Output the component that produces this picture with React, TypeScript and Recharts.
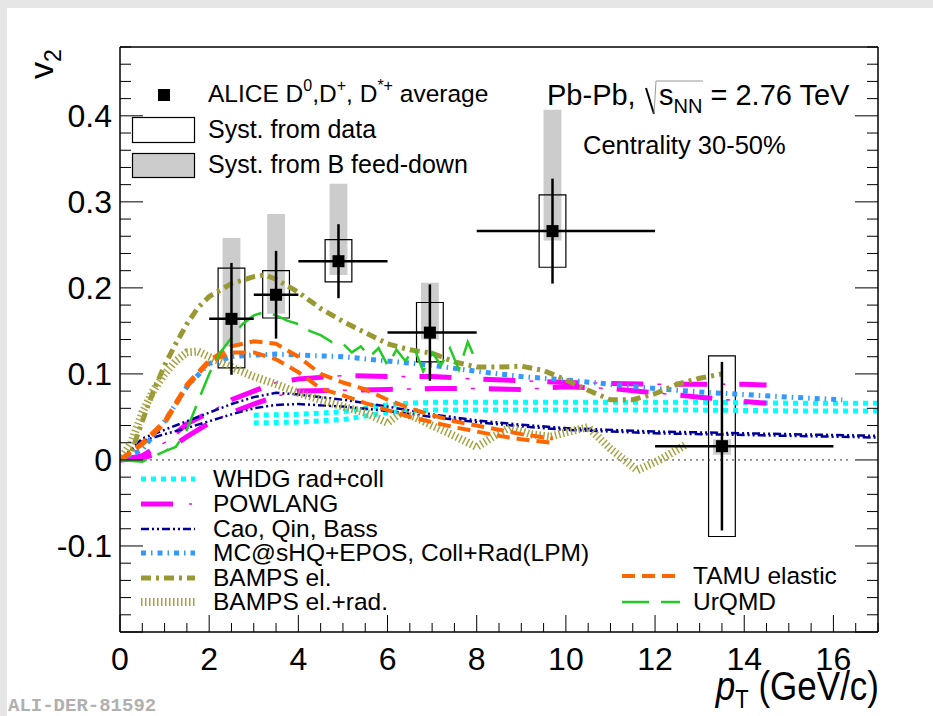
import React from "react";
import {
  ComposedChart,
  Line,
  Scatter,
  XAxis,
  YAxis,
  ErrorBar,
  ReferenceArea,
  ReferenceLine,
} from "recharts";

// ── Measured D-meson v2, Pb-Pb 30-50% ─────────────────────────
const PT = [2.5, 3.5, 4.9, 6.95, 9.7, 13.5];
const PT_LO = [2, 3, 4, 6, 8, 12];
const PT_HI = [3, 4, 6, 8, 12, 16];
const V2 = [0.164, 0.192, 0.231, 0.148, 0.266, 0.016];
const V2_STAT = [0.065, 0.051, 0.043, 0.056, 0.061, 0.098];
const SYST_DATA_LO = [0.107, 0.165, 0.207, 0.114, 0.224, -0.089];
const SYST_DATA_HI = [0.223, 0.22, 0.256, 0.183, 0.308, 0.121];
const SYST_FD_LO = [0.132, 0.17, 0.215, 0.14, 0.255, 0.006];
const SYST_FD_HI = [0.258, 0.286, 0.321, 0.206, 0.407, 0.024];

// ── Model curves [pT, v2] ─────────────────────────────────────
const WHDG_UP = [[3, 0.052], [4, 0.053], [5, 0.056], [5.5, 0.06], [6, 0.064], [6.5, 0.066], [7, 0.067], [9, 0.067], [11, 0.067], [13, 0.067], [15, 0.066], [17, 0.066]];
const WHDG_LO = [[3, 0.043], [4, 0.044], [5, 0.047], [5.5, 0.051], [6, 0.055], [6.5, 0.057], [7, 0.058], [9, 0.058], [11, 0.058], [13, 0.058], [15, 0.057], [17, 0.057]];
const POWLANG_UP = [[0, 0], [0.5, 0.005], [1, 0.02], [1.5, 0.042], [2, 0.055], [2.5, 0.07], [3, 0.08], [3.5, 0.09], [4, 0.094], [5, 0.098], [6, 0.097], [7, 0.097], [8, 0.094], [9, 0.092], [10, 0.09], [11, 0.089], [12, 0.088], [13, 0.088], [14, 0.088], [14.5, 0.087]];
const POWLANG_LO = [[0, 0], [0.5, 0.002], [1, 0.01], [1.5, 0.027], [2, 0.043], [2.5, 0.055], [3, 0.065], [3.5, 0.074], [4, 0.08], [5, 0.081], [6, 0.082], [7, 0.083], [8, 0.083], [9, 0.082], [10, 0.085], [11, 0.083], [12, 0.078], [13, 0.073], [14, 0.068], [14.5, 0.066]];
const CAO_UP = [[0, 0], [0.5, 0.025], [1, 0.035], [1.5, 0.045], [2, 0.055], [2.5, 0.065], [3, 0.073], [3.5, 0.078], [4, 0.076], [5, 0.07], [6, 0.062], [7, 0.053], [8, 0.046], [9, 0.041], [10, 0.037], [12, 0.033], [14, 0.031], [17, 0.028]];
const CAO_LO = [[0, 0], [0.5, 0.022], [1, 0.03], [1.5, 0.037], [2, 0.045], [2.5, 0.053], [3, 0.06], [3.5, 0.064], [4, 0.065], [5, 0.062], [6, 0.057], [7, 0.05], [8, 0.044], [9, 0.039], [10, 0.035], [12, 0.031], [14, 0.029], [17, 0.026]];
const MCSHQ = [[0, 0], [0.5, 0.012], [1, 0.045], [1.5, 0.085], [2, 0.112], [2.5, 0.12], [3, 0.122], [3.5, 0.123], [4, 0.122], [5, 0.12], [6, 0.115], [7, 0.11], [8, 0.103], [9, 0.097], [10, 0.093], [11, 0.088], [12, 0.083], [13, 0.079], [14, 0.076], [15, 0.073], [16.2, 0.07]];
const BAMPS_EL = [[0, 0], [0.25, 0.008], [0.5, 0.045], [0.75, 0.08], [1, 0.11], [1.25, 0.135], [1.5, 0.158], [1.75, 0.177], [2, 0.19], [2.5, 0.205], [3, 0.213], [3.25, 0.215], [3.5, 0.21], [4, 0.195], [4.5, 0.176], [5, 0.161], [5.5, 0.148], [6, 0.135], [6.5, 0.128], [7, 0.124], [7.5, 0.114], [8, 0.108], [8.5, 0.108], [9, 0.109], [9.5, 0.104], [10, 0.093], [10.5, 0.081], [11, 0.07], [11.5, 0.07], [12, 0.077], [12.5, 0.088], [13, 0.095], [13.5, 0.1]];
const BAMPS_RAD = [[0, 0], [0.25, 0.02], [0.5, 0.055], [0.75, 0.081], [1, 0.1], [1.25, 0.115], [1.5, 0.125], [1.75, 0.126], [2, 0.12], [2.5, 0.108], [3, 0.097], [3.5, 0.088], [4, 0.078], [4.5, 0.07], [5, 0.062], [5.5, 0.055], [6, 0.043], [6.3, 0.055], [6.6, 0.05], [7, 0.04], [7.5, 0.028], [8, 0.015], [8.4, 0.028], [8.75, 0.038], [9.2, 0.03], [9.65, 0.027], [10, 0.032], [10.5, 0.038], [11, 0.013], [11.6, -0.012], [12.1, 0.0], [12.7, 0.018]];
const TAMU_UP = [[0, 0], [0.5, 0.02], [1, 0.045], [1.5, 0.088], [2, 0.116], [2.5, 0.132], [3, 0.138], [3.5, 0.135], [4, 0.12], [4.5, 0.1], [5, 0.09], [5.5, 0.082], [6, 0.07], [6.5, 0.06], [7, 0.052], [7.5, 0.045], [8, 0.04], [8.5, 0.035], [9, 0.03], [9.7, 0.025]];
const TAMU_LO = [[0, 0], [0.5, 0.018], [1, 0.042], [1.5, 0.085], [2, 0.114], [2.5, 0.125], [3, 0.125], [3.5, 0.117], [4, 0.102], [4.5, 0.083], [5, 0.075], [5.5, 0.066], [6, 0.058], [6.5, 0.05], [7, 0.044], [7.5, 0.038], [8, 0.033], [8.5, 0.028], [9, 0.024], [9.7, 0.02]];
const URQMD = [[0, 0], [0.5, -0.002], [1, 0.01], [1.25, 0.015], [1.5, 0.035], [1.75, 0.068], [2, 0.1], [2.25, 0.125], [2.5, 0.142], [2.75, 0.158], [3, 0.168], [3.25, 0.172], [3.5, 0.168], [3.75, 0.162], [4, 0.158], [4.25, 0.15], [4.5, 0.145], [4.75, 0.137], [5, 0.135], [5.2, 0.125], [5.4, 0.132], [5.6, 0.12], [5.8, 0.13], [6, 0.11], [6.2, 0.128], [6.4, 0.115], [6.6, 0.13], [6.8, 0.103], [7, 0.125], [7.2, 0.11], [7.4, 0.13], [7.6, 0.105], [7.8, 0.137], [8, 0.113]];

// ── Axes ──────────────────────────────────────────────────────
const X_DOMAIN: [number, number] = [0, 17];
const Y_DOMAIN: [number, number] = [-0.2, 0.48];
// every 0.5 GeV/c, labelled every 2
const X_TICKS = Array.from({ length: 35 }, (_, i) => i * 0.5);
// every 0.02, labelled every 0.1 from -0.1 to 0.4
const Y_TICKS = Array.from({ length: 35 }, (_, i) => Math.round((-0.2 + i * 0.02) * 1000) / 1000);

const FONT = '"Liberation Sans", Arial, Helvetica, sans-serif';

const C = {
  whdg: "#00ffff",
  powlang: "#ff00ff",
  cao: "#000099",
  mcshq: "#3399ff",
  bampsEl: "#999933",
  bampsRad: "#a3a344",
  tamu: "#ff6600",
  urqmd: "#22cc22",
  feedDown: "#cccccc",
};

const toPts = (rows: number[][]) => rows.map(([x, y]) => ({ x, y }));

const points = PT.map((x, i) => ({
  x,
  y: V2[i],
  ex: [x - PT_LO[i], PT_HI[i] - x],
  ey: V2_STAT[i],
}));

const isMajorX = (v: number) => Math.abs(v / 2 - Math.round(v / 2)) < 1e-6;
const isMajorY = (v: number) => Math.abs(v * 10 - Math.round(v * 10)) < 1e-6;

// ── Tick renderers (inward ticks, ROOT style) ─────────────────

// eslint-disable-next-line @typescript-eslint/no-explicit-any
function BottomTick(props: any) {
  const { x, y, payload } = props;
  const v = payload.value as number;
  const major = isMajorX(v);
  return (
    <g>
      <line x1={x} x2={x} y1={y} y2={y - (major ? 17 : 9)} stroke="#000" strokeWidth={1} />
      {major && v <= 16 && (
        <text x={x} y={y + 38} textAnchor="middle" fontSize={32} fontFamily={FONT} fill="#000">
          {v}
        </text>
      )}
    </g>
  );
}

// eslint-disable-next-line @typescript-eslint/no-explicit-any
function TopTick(props: any) {
  const { x, y, payload } = props;
  const major = isMajorX(payload.value);
  return <line x1={x} x2={x} y1={y} y2={y + (major ? 17 : 9)} stroke="#000" strokeWidth={1} />;
}

// eslint-disable-next-line @typescript-eslint/no-explicit-any
function LeftTick(props: any) {
  const { x, y, payload } = props;
  const v = payload.value as number;
  const major = isMajorY(v);
  return (
    <g>
      <line x1={x} x2={x + (major ? 23 : 11)} y1={y} y2={y} stroke="#000" strokeWidth={1} />
      {major && v > -0.15 && v < 0.45 && (
        <text x={x - 8} y={y + 11} textAnchor="end" fontSize={32} fontFamily={FONT} fill="#000">
          {String(v)}
        </text>
      )}
    </g>
  );
}

// eslint-disable-next-line @typescript-eslint/no-explicit-any
function RightTick(props: any) {
  const { x, y, payload } = props;
  const major = isMajorY(payload.value);
  return <line x1={x} x2={x - (major ? 23 : 11)} y1={y} y2={y} stroke="#000" strokeWidth={1} />;
}

// eslint-disable-next-line @typescript-eslint/no-explicit-any
function Square(props: any) {
  const { cx, cy } = props;
  return <rect x={cx - 6} y={cy - 6} width={12} height={12} fill="#000" />;
}

// ── Model line ────────────────────────────────────────────────

function model(key: string, rows: number[][], stroke: string, width: number, dash: string) {
  return (
    <Line
      key={key}
      xAxisId="x"
      yAxisId="y"
      data={toPts(rows)}
      dataKey="y"
      type="linear"
      stroke={stroke}
      strokeWidth={width}
      strokeDasharray={dash}
      strokeLinecap="butt"
      dot={false}
      activeDot={false}
      isAnimationActive={false}
    />
  );
}

// ── Legend sample ─────────────────────────────────────────────

function Sample({ x1, x2, y, stroke, width, dash }: { x1: number; x2: number; y: number; stroke: string; width: number; dash?: string }) {
  return <line x1={x1} x2={x2} y1={y} y2={y} stroke={stroke} strokeWidth={width} strokeDasharray={dash} />;
}

function Overlay() {
  const t = { fontFamily: FONT, fill: "#000" };
  const left = [
    { y: 479, label: "WHDG rad+coll" },
    { y: 504, label: "POWLANG" },
    { y: 529, label: "Cao, Qin, Bass" },
    { y: 553, label: "MC@sHQ+EPOS, Coll+Rad(LPM)" },
    { y: 578, label: "BAMPS el." },
    { y: 602, label: "BAMPS el.+rad." },
  ];
  return (
    <svg width={933} height={716} style={{ position: "absolute", left: 0, top: 0, pointerEvents: "none" }}>
      {/* y title */}
      <text transform="translate(53,79) rotate(-90)" fontSize={34} {...t}>
        v<tspan dy={8} fontSize={23}>2</tspan>
      </text>
      {/* x title, a little taller than wide like the tick labels */}
      <g transform="translate(879,700) scale(1,1.15)">
        <text x={0} y={0} textAnchor="end" fontSize={35} {...t}>
          <tspan fontStyle="italic">p</tspan>
          <tspan dy={7} fontSize={22}>T</tspan>
          <tspan dy={-7}> (GeV/c)</tspan>
        </text>
      </g>

      {/* data legend */}
      <rect x={158} y={89} width={12} height={12} fill="#000" />
      <text x={208} y={102} fontSize={24.5} {...t}>
        ALICE D<tspan dy={-11} fontSize={16}>0</tspan>
        <tspan dy={11}>,D</tspan>
        <tspan dy={-11} fontSize={16}>+</tspan>
        <tspan dy={11}>, D</tspan>
        <tspan dy={-11} fontSize={16}>*+</tspan>
        <tspan dy={11}> average</tspan>
      </text>
      <rect x={132.5} y={117.5} width={62} height={25} fill="#fff" stroke="#000" strokeWidth={1.2} />
      <text x={208} y={138} fontSize={25} {...t}>Syst. from data</text>
      <rect x={132.5} y={153.5} width={62} height={24} fill={C.feedDown} stroke="#000" strokeWidth={1.2} />
      <text x={208} y={173} fontSize={25} {...t}>Syst. from B feed-down</text>

      {/* collision system */}
      <text x={547} y={105} fontSize={29} {...t}>Pb-Pb,</text>
      <path d="M646 88 L654 114" fill="none" stroke="#000" strokeWidth={2} />
      <path d="M654 114 L656 81 L703 81" fill="none" stroke="#999" strokeWidth={1} />
      <text x={659} y={105} fontSize={29} {...t}>
        s<tspan dy={8} fontSize={20}>NN</tspan>
        <tspan dy={-8}> = 2.76 TeV</tspan>
      </text>
      <text x={583} y={154} fontSize={25.5} {...t}>Centrality 30-50%</text>

      {/* model legend, left column */}
      <Sample x1={141} x2={195} y={479} stroke={C.whdg} width={5} dash="5 5" />
      <Sample x1={141} x2={173} y={504} stroke={C.powlang} width={5} />
      <Sample x1={189} x2={192} y={504} stroke={C.powlang} width={1.5} />
      <Sample x1={141} x2={195} y={529} stroke={C.cao} width={2.5} dash="8 3 2 3 2 3" />
      <Sample x1={141} x2={195} y={553} stroke={C.mcshq} width={5} dash="5 5 1.5 5" />
      <Sample x1={141} x2={195} y={578} stroke={C.bampsEl} width={5} dash="10 5 3 5" />
      <Sample x1={141} x2={195} y={602} stroke={C.bampsRad} width={8} dash="1.5 2.5" />
      {left.map((e) => (
        <text key={e.label} x={213} y={e.y + 8} fontSize={24.5} {...t}>{e.label}</text>
      ))}

      {/* model legend, right column */}
      <Sample x1={622} x2={680} y={576} stroke={C.tamu} width={4} dash="13 7" />
      <Sample x1={622} x2={680} y={602} stroke={C.urqmd} width={2.5} dash="27 12" />
      <text x={693} y={584} fontSize={24.5} {...t}>TAMU elastic</text>
      <text x={693} y={610} fontSize={24.5} {...t}>UrQMD</text>

      <text x={8} y={711} fontSize={19} fontWeight="bold" fontFamily='"Liberation Mono", "DejaVu Sans Mono", monospace' fill="#b0b0b0">
        ALI-DER-81592
      </text>
    </svg>
  );
}

// ── Main component ────────────────────────────────────────────

export default function App() {
  const frame = { stroke: "#000", strokeWidth: 1.5 };
  return (
    <div style={{ position: "relative", width: 933, height: 716, background: "#e6e6e6" }}>
      <style>{"body{margin:0}"}</style>
      <div style={{ position: "absolute", left: 7, top: 8, right: 0, bottom: 0, background: "#fff" }} />
      <div style={{ position: "absolute", left: 0, top: 0 }}>
        {/* each axis takes 1px, so the plot box is 120..878 x 47..632 */}
        <ComposedChart width={933} height={716} margin={{ top: 46, right: 54, bottom: 83, left: 119 }}>
          <XAxis xAxisId="x" dataKey="x" type="number" domain={X_DOMAIN} allowDataOverflow ticks={X_TICKS} interval={0}
            height={1} tickLine={false} tickSize={0} tickMargin={0} tick={BottomTick} axisLine={frame} />
          <XAxis xAxisId="top" orientation="top" type="number" domain={X_DOMAIN} allowDataOverflow ticks={X_TICKS} interval={0}
            height={1} tickLine={false} tickSize={0} tickMargin={0} tick={TopTick} axisLine={frame} />
          <YAxis yAxisId="y" dataKey="y" type="number" domain={Y_DOMAIN} allowDataOverflow ticks={Y_TICKS} interval={0}
            width={1} tickLine={false} tickSize={0} tickMargin={0} tick={LeftTick} axisLine={frame} />
          <YAxis yAxisId="right" orientation="right" type="number" domain={Y_DOMAIN} allowDataOverflow ticks={Y_TICKS} interval={0}
            width={1} tickLine={false} tickSize={0} tickMargin={0} tick={RightTick} axisLine={frame} />

          <ReferenceLine xAxisId="x" yAxisId="y" segment={[{ x: 0, y: 0 }, { x: 16.4, y: 0 }]}
            stroke="#333" strokeWidth={1} strokeDasharray="2 4" />

          {/* systematic boxes */}
          {PT.map((x, i) => (
            <ReferenceArea key={`fd${i}`} xAxisId="x" yAxisId="y" x1={x - 0.2} x2={x + 0.2}
              y1={SYST_FD_LO[i]} y2={SYST_FD_HI[i]} fill={C.feedDown} fillOpacity={1} stroke="none" />
          ))}
          {PT.map((x, i) => (
            <ReferenceArea key={`sd${i}`} xAxisId="x" yAxisId="y" x1={x - 0.3} x2={x + 0.3}
              y1={SYST_DATA_LO[i]} y2={SYST_DATA_HI[i]} fill="none" stroke="#000" strokeWidth={1.2} />
          ))}

          {model("whdgUp", WHDG_UP, C.whdg, 5, "5 5")}
          {model("whdgLo", WHDG_LO, C.whdg, 5, "5 5")}
          {model("powUp", POWLANG_UP, C.powlang, 5, "32 32")}
          {model("powUpTick", POWLANG_UP, C.powlang, 1.5, "0 46 4 14")}
          {model("powLo", POWLANG_LO, C.powlang, 5, "32 32")}
          {model("powLoTick", POWLANG_LO, C.powlang, 1.5, "0 46 4 14")}
          {model("caoUp", CAO_UP, C.cao, 2.5, "8 3 2 3 2 3")}
          {model("caoLo", CAO_LO, C.cao, 2.5, "8 3 2 3 2 3")}
          {model("mcshq", MCSHQ, C.mcshq, 5, "5 5 1.5 5")}
          {model("bampsEl", BAMPS_EL, C.bampsEl, 5, "10 5 3 5")}
          {model("bampsRad", BAMPS_RAD, C.bampsRad, 8, "1.5 2.5")}
          {model("tamuUp", TAMU_UP, C.tamu, 4, "13 7")}
          {model("tamuLo", TAMU_LO, C.tamu, 4, "13 7")}
          {model("urqmd", URQMD, C.urqmd, 2.5, "27 12")}

          <Scatter xAxisId="x" yAxisId="y" data={points} dataKey="y" shape={Square} isAnimationActive={false}>
            <ErrorBar dataKey="ex" direction="x" width={0} stroke="#000" strokeWidth={2.5} />
            <ErrorBar dataKey="ey" direction="y" width={0} stroke="#000" strokeWidth={2.5} />
          </Scatter>
        </ComposedChart>
      </div>
      <Overlay />
    </div>
  );
}
